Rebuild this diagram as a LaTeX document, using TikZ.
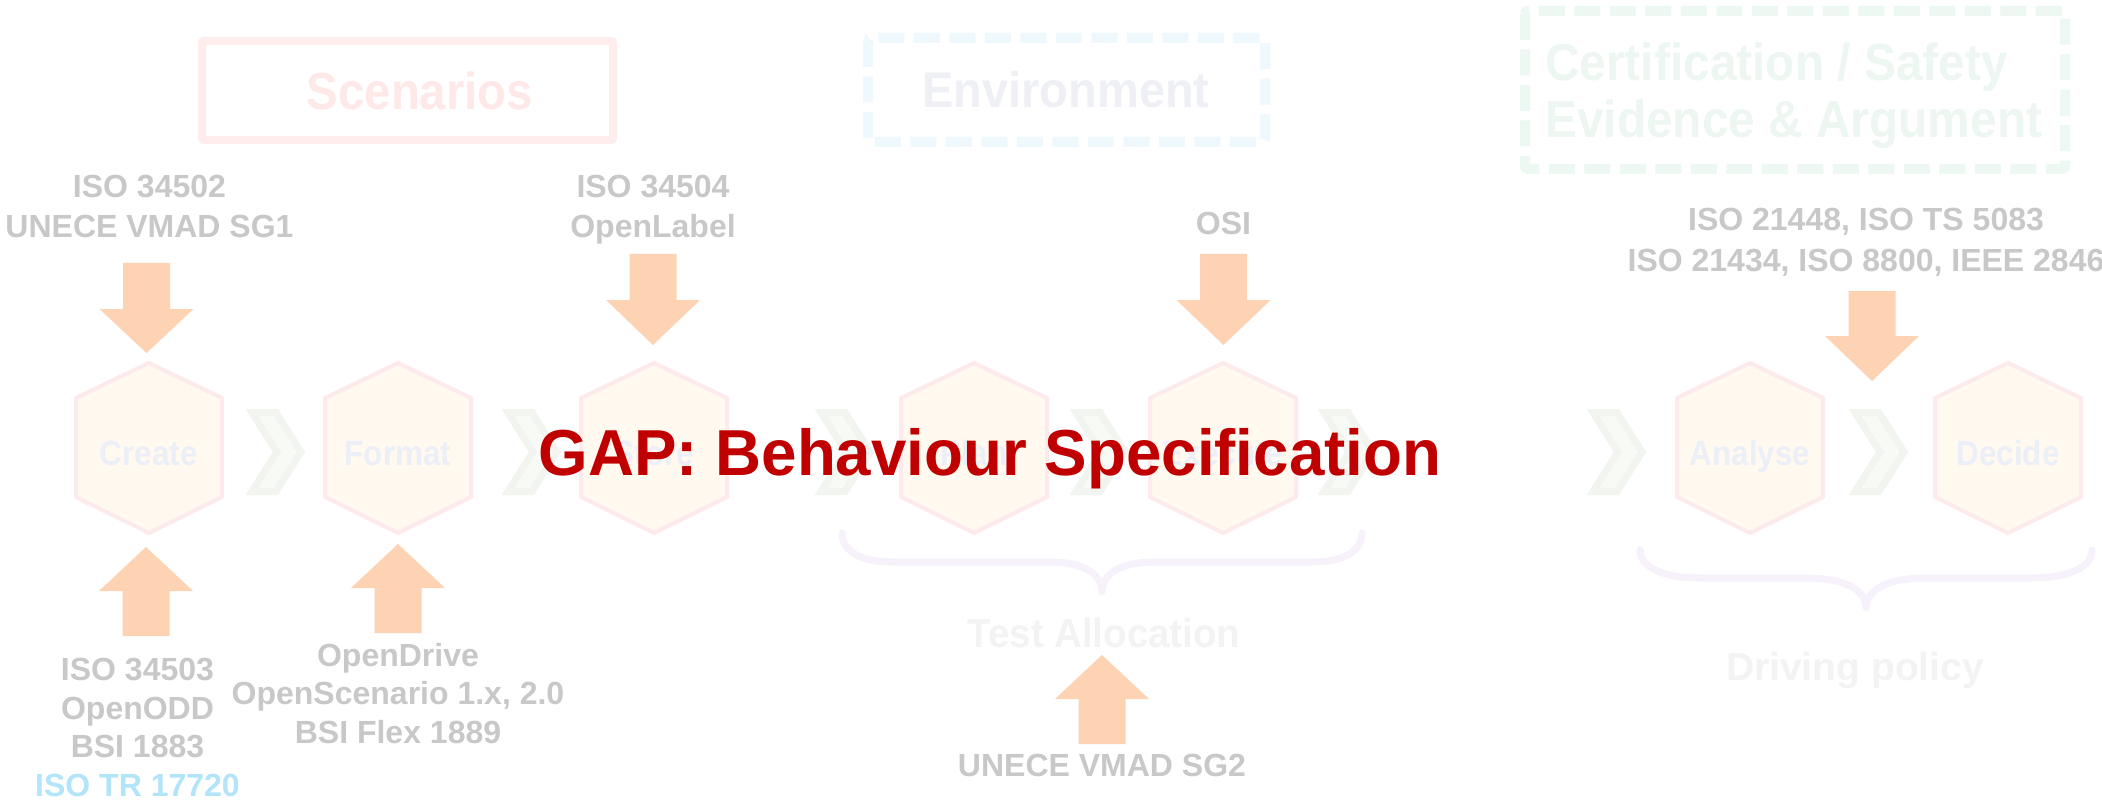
\documentclass[tikz,border=0pt]{standalone}
\usepackage{fontspec}
\usepackage{graphicx}
\setmainfont{Liberation Sans}
\definecolor{lblgray}{RGB}{200,200,200}
\definecolor{lblblue}{RGB}{178,228,250}
\definecolor{arrowpeach}{RGB}{253,211,180}
\definecolor{scenpink}{RGB}{255,236,236}
\definecolor{scentext}{RGB}{255,232,232}
\definecolor{envblue}{RGB}{239,248,253}
\definecolor{envtext}{RGB}{238,240,246}
\definecolor{certgreen}{RGB}{237,248,242}
\definecolor{certtext}{RGB}{238,246,242}
\definecolor{hexfill}{RGB}{255,249,239}
\definecolor{hexline}{RGB}{253,234,236}
\definecolor{hextext}{RGB}{236,239,248}
\definecolor{chevline}{RGB}{242,244,240}
\definecolor{chevfill}{RGB}{247,250,245}
\definecolor{bracecol}{RGB}{246,241,250}
\definecolor{bracetext}{RGB}{243,243,243}
\definecolor{gapred}{RGB}{192,0,0}
\newcommand{\hsc}[2]{\scalebox{#1}[1]{#2}}
\newcommand{\blockdown}[4]{\fill[arrowpeach] (#1-23.5,#2) -- (#1+23.5,#2) -- (#1+23.5,#3) -- (#1+47,#3) -- (#1,#4) -- (#1-47,#3) -- (#1-23.5,#3) -- cycle;}
\newcommand{\blockup}[4]{\fill[arrowpeach] (#1-23.5,#2) -- (#1+23.5,#2) -- (#1+23.5,#3) -- (#1+47,#3) -- (#1,#4) -- (#1-47,#3) -- (#1-23.5,#3) -- cycle;}
\begin{document}
\begin{tikzpicture}[x=1pt,y=-1pt,
  lbl/.style={text=lblgray,font=\bfseries\fontsize{32}{40}\selectfont,inner sep=0pt,align=center},
  hexshape/.style={draw=hexline,fill=hexfill,line width=4pt,line join=round},
  hexlbl/.style={text=hextext,font=\bfseries\fontsize{35}{42}\selectfont,inner sep=0pt,anchor=base},
  chevshape/.style={draw=chevline,fill=chevfill,line width=7pt,line join=miter},
  bigtext/.style={font=\bfseries\fontsize{52}{57}\selectfont,inner sep=0pt},
  bracestyle/.style={draw=bracecol,line width=7pt,line cap=round,line join=round},
  dashbox/.style={line width=10pt,dash pattern=on 26pt off 9.5pt,rounded corners=3pt}
]
\useasboundingbox[fill=white] (0,0) rectangle (2102,805);

% header boxes
\draw[scenpink,line width=8pt,rounded corners=2pt] (202,41) rectangle (613,140);
\draw[dashbox,envblue] (868,38) rectangle (1265,142);
\draw[dashbox,certgreen] (1525,11) rectangle (2065,169);
\node[bigtext,text=scentext,anchor=base] (scen) at (420,110) {\hsc{0.91}{Scenarios}};
\node[bigtext,text=envtext,anchor=base,font=\bfseries\fontsize{50}{57}\selectfont] (env) at (1066,108) {\hsc{0.94}{Environment}};
\node[bigtext,text=certtext,anchor=north west,align=left] (cert) at (1545,43) {\hsc{0.92}{Certification / Safety}\\\hsc{0.92}{Evidence \& Argument}};

% block arrows
\blockdown{146.5}{263}{309}{353}
\blockdown{653}{254}{300}{345}
\blockdown{1223.5}{254}{300}{345}
\blockdown{1872}{291}{336}{381}
\blockup{146}{636}{591}{547}
\blockup{398}{633}{588}{544}
\blockup{1102}{744}{699}{655}

% hexagons
\foreach \cx/\nm/\txt in {149/create/Create,398/format/Format,654/store/Store,974/plan/Plan,1223/execute/Execute,1750/analyse/Analyse,2008/decide/Decide}{
  \draw[hexshape] (\cx,363) -- (\cx+73,398) -- (\cx+73,497) -- (\cx,533) -- (\cx-73,497) -- (\cx-73,398) -- cycle;
  \node[hexlbl] (\nm) at (\cx,465) {\hsc{0.9}{\txt}};
}

% chevrons
\foreach \L in {246,502,815,1070,1318,1587,1849}{
  \draw[chevshape] (\L+6,412.5) -- (\L+30,412.5) -- (\L+55,452) -- (\L+30,491.5) -- (\L+6,491.5) -- (\L+31,452) -- cycle;
}

% standards labels
\node[lbl,anchor=north] (lblA) at (149.5,175) {ISO 34502\\UNECE VMAD SG1};
\node[lbl,anchor=north] (lblD) at (653,175) {ISO 34504\\OpenLabel};
\node[lbl,anchor=base] (lblosi) at (1223.5,235) {OSI};
\node[lbl,anchor=north,font=\bfseries\fontsize{32}{41}\selectfont] (lblcert) at (1866,208) {ISO 21448, ISO TS 5083\\ISO 21434, ISO 8800, IEEE 2846};
\node[lbl,anchor=north,font=\bfseries\fontsize{32}{38.5}\selectfont] (lblB) at (137.5,658) {ISO 34503\\OpenODD\\BSI 1883\\\textcolor{lblblue}{ISO TR 17720}};
\node[lbl,anchor=north,font=\bfseries\fontsize{32}{38.5}\selectfont] (lblC) at (398,643) {OpenDrive\\OpenScenario 1.x, 2.0\\BSI Flex 1889};
\node[lbl,anchor=base] (lblsg2) at (1102,776) {UNECE VMAD SG2};

% braces
\draw[bracestyle] (842,533) .. controls (842,552) and (862,562) .. (892,562) -- (1050,562) .. controls (1085,562) and (1102,575) .. (1102,592) .. controls (1102,575) and (1119,562) .. (1154,562) -- (1312,562) .. controls (1342,562) and (1362,552) .. (1362,533);
\draw[bracestyle] (1640,550) .. controls (1640,568) and (1665,578) .. (1700,578) -- (1806,578) .. controls (1845,578) and (1866,590) .. (1866,608) .. controls (1866,590) and (1887,578) .. (1926,578) -- (2032,578) .. controls (2067,578) and (2092,568) .. (2092,550);
\node[bigtext,text=bracetext,anchor=base,font=\bfseries\fontsize{40.5}{45}\selectfont] (testalloc) at (1104,647) {\hsc{0.95}{Test Allocation}};
\node[bigtext,text=bracetext,anchor=base,font=\bfseries\fontsize{39}{45}\selectfont] (driving) at (1855,680) {Driving policy};

% gap title
\node[bigtext,text=gapred,anchor=base,font=\bfseries\fontsize{65}{70}\selectfont] (gap) at (990,475) {\hsc{0.98}{GAP: Behaviour Specification}};
\end{tikzpicture}
\end{document}
